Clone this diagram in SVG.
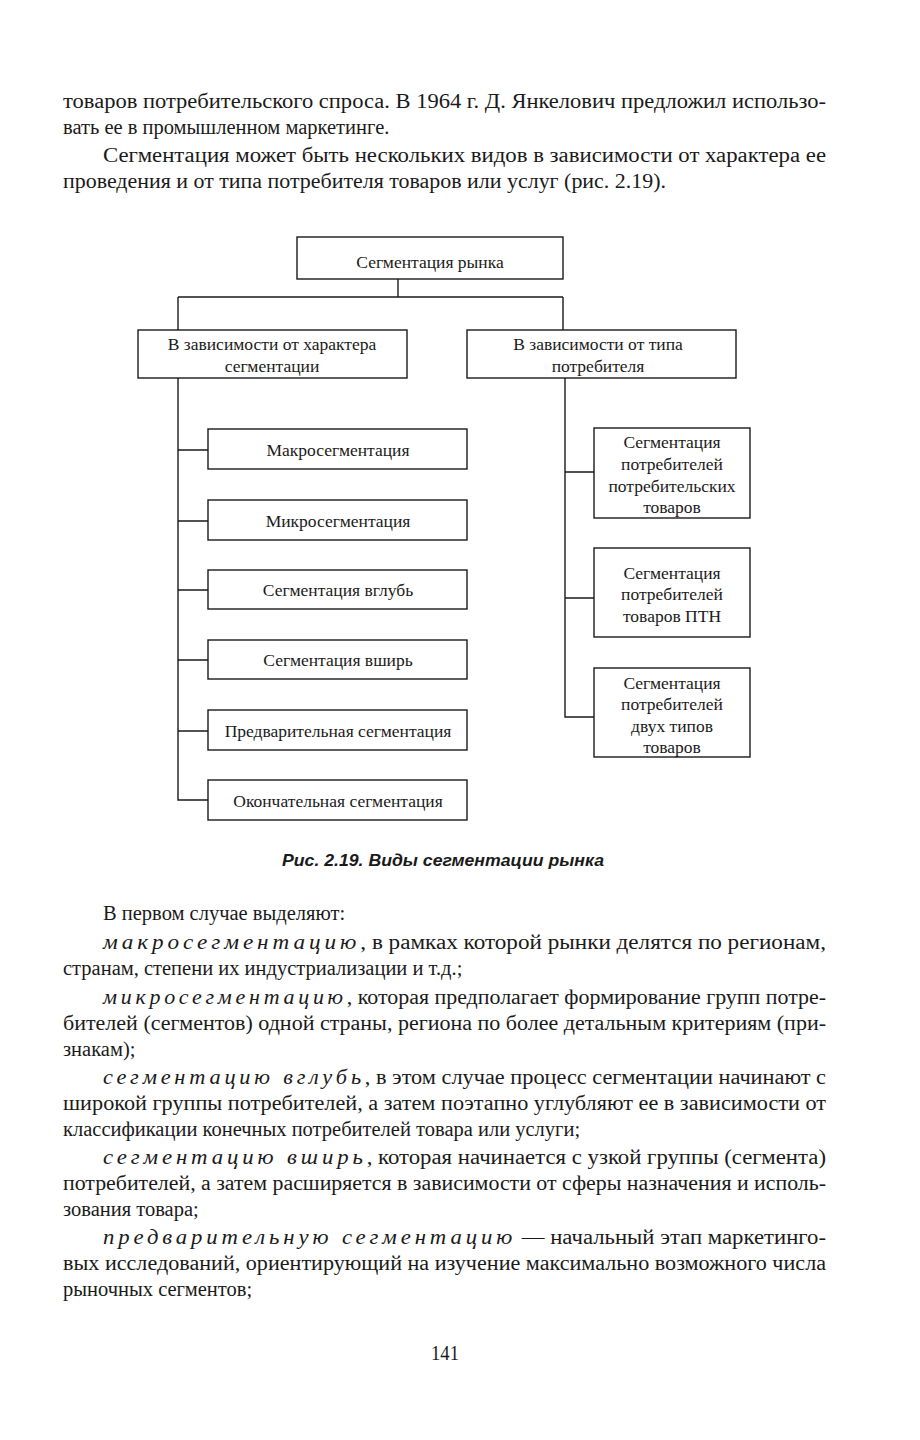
<svg xmlns="http://www.w3.org/2000/svg" width="920" height="1440" viewBox="0 0 920 1440">
<style>
.body{font-family:"Liberation Serif","DejaVu Serif",serif;font-size:20.5px;fill:#1a1a1a}
.it{font-style:italic;letter-spacing:3.5px}
.box{fill:#fff;stroke:#1a1a1a;stroke-width:1.4}
.lbl{font-family:"Liberation Serif","DejaVu Serif",serif;font-size:17.5px;fill:#1a1a1a;text-anchor:middle}
.cap{font-family:"Liberation Sans","Arial",sans-serif;font-size:16.5px;font-weight:bold;font-style:italic;fill:#1a1a1a}
.ln{fill:none;stroke:#1a1a1a;stroke-width:1.4}
</style>
<rect width="920" height="1440" fill="#fff"/>

<g id="text-top">
<text class="body" x="63" y="108" textLength="763" lengthAdjust="spacingAndGlyphs">товаров потребительского спроса. В 1964 г. Д. Янкелович предложил использо-</text>
<text class="body" x="63" y="134">вать ее в промышленном маркетинге.</text>
<text class="body" x="103" y="162" textLength="723" lengthAdjust="spacingAndGlyphs">Сегментация может быть нескольких видов в зависимости от характера ее</text>
<text class="body" x="63" y="188" textLength="603" lengthAdjust="spacingAndGlyphs">проведения и от типа потребителя товаров или услуг (рис. 2.19).</text>
</g>

<g id="connectors">
<path class="ln" d="M398 279 V297 M178 297 H563 M178 297 V330 M563 297 V330"/>
<path class="ln" d="M178 378 V800 H208 M178 450 H208 M178 521 H208 M178 590 H208 M178 660 H208 M178 731 H208"/>
<path class="ln" d="M565 378 V717 H594 M565 472 H594 M565 598 H594"/>
</g>

<g id="n-root">
<rect class="box" x="297" y="237" width="266" height="42"/>
<text class="lbl" x="430" y="268">Сегментация рынка</text>
</g>
<g id="n-char">
<rect class="box" x="138" y="330" width="269" height="48"/>
<text class="lbl" x="272" y="350">В зависимости от характера</text>
<text class="lbl" x="272" y="372">сегментации</text>
</g>
<g id="n-type">
<rect class="box" x="467" y="330" width="269" height="48"/>
<text class="lbl" x="598" y="350">В зависимости от типа</text>
<text class="lbl" x="598" y="372">потребителя</text>
</g>

<g id="n-macro">
<rect class="box" x="208" y="429" width="259" height="40"/>
<text class="lbl" x="338" y="456">Макросегментация</text>
</g>
<g id="n-micro">
<rect class="box" x="208" y="500" width="259" height="40"/>
<text class="lbl" x="338" y="527">Микросегментация</text>
</g>
<g id="n-deep">
<rect class="box" x="208" y="570" width="259" height="39"/>
<text class="lbl" x="338" y="596">Сегментация вглубь</text>
</g>
<g id="n-wide">
<rect class="box" x="208" y="640" width="259" height="39"/>
<text class="lbl" x="338" y="666">Сегментация вширь</text>
</g>
<g id="n-prelim">
<rect class="box" x="208" y="710" width="259" height="40"/>
<text class="lbl" x="338" y="737">Предварительная сегментация</text>
</g>
<g id="n-final">
<rect class="box" x="208" y="780" width="259" height="40"/>
<text class="lbl" x="338" y="807">Окончательная сегментация</text>
</g>

<g id="n-consumer">
<rect class="box" x="594" y="428" width="156" height="90"/>
<text class="lbl" x="672" y="448">Сегментация</text>
<text class="lbl" x="672" y="470">потребителей</text>
<text class="lbl" x="672" y="492">потребительских</text>
<text class="lbl" x="672" y="513">товаров</text>
</g>
<g id="n-ptn">
<rect class="box" x="594" y="548" width="156" height="89"/>
<text class="lbl" x="672" y="579">Сегментация</text>
<text class="lbl" x="672" y="600">потребителей</text>
<text class="lbl" x="672" y="622">товаров ПТН</text>
</g>
<g id="n-two">
<rect class="box" x="594" y="668" width="156" height="89"/>
<text class="lbl" x="672" y="689">Сегментация</text>
<text class="lbl" x="672" y="710">потребителей</text>
<text class="lbl" x="672" y="732">двух типов</text>
<text class="lbl" x="672" y="753">товаров</text>
</g>

<text class="cap" x="282" y="866" textLength="322" lengthAdjust="spacingAndGlyphs">Рис. 2.19. Виды сегментации рынка</text>

<g id="text-bottom">
<text class="body" x="103" y="920">В первом случае выделяют:</text>
<text class="body" x="103" y="949" textLength="723" lengthAdjust="spacingAndGlyphs"><tspan class="it">макросегментацию</tspan>, в рамках которой рынки делятся по регионам,</text>
<text class="body" x="63" y="975">странам, степени их индустриализации и т.д.;</text>
<text class="body" x="103" y="1004" textLength="723" lengthAdjust="spacingAndGlyphs"><tspan class="it">микросегментацию</tspan>, которая предполагает формирование групп потре-</text>
<text class="body" x="63" y="1030" textLength="763" lengthAdjust="spacingAndGlyphs">бителей (сегментов) одной страны, региона по более детальным критериям (при-</text>
<text class="body" x="63" y="1056">знакам);</text>
<text class="body" x="103" y="1084" textLength="723" lengthAdjust="spacingAndGlyphs"><tspan class="it">сегментацию вглубь</tspan>, в этом случае процесс сегментации начинают с</text>
<text class="body" x="63" y="1110" textLength="763" lengthAdjust="spacingAndGlyphs">широкой группы потребителей, а затем поэтапно углубляют ее в зависимости от</text>
<text class="body" x="63" y="1136">классификации конечных потребителей товара или услуги;</text>
<text class="body" x="103" y="1164" textLength="723" lengthAdjust="spacingAndGlyphs"><tspan class="it">сегментацию вширь</tspan>, которая начинается с узкой группы (сегмента)</text>
<text class="body" x="63" y="1190" textLength="763" lengthAdjust="spacingAndGlyphs">потребителей, а затем расширяется в зависимости от сферы назначения и исполь-</text>
<text class="body" x="63" y="1216">зования товара;</text>
<text class="body" x="103" y="1244" textLength="723" lengthAdjust="spacingAndGlyphs"><tspan class="it">предварительную сегментацию</tspan> — начальный этап маркетинго-</text>
<text class="body" x="63" y="1270" textLength="763" lengthAdjust="spacingAndGlyphs">вых исследований, ориентирующий на изучение максимально возможного числа</text>
<text class="body" x="63" y="1296">рыночных сегментов;</text>
<text class="body" x="431" y="1360" textLength="28" lengthAdjust="spacingAndGlyphs">141</text>
</g>
</svg>
